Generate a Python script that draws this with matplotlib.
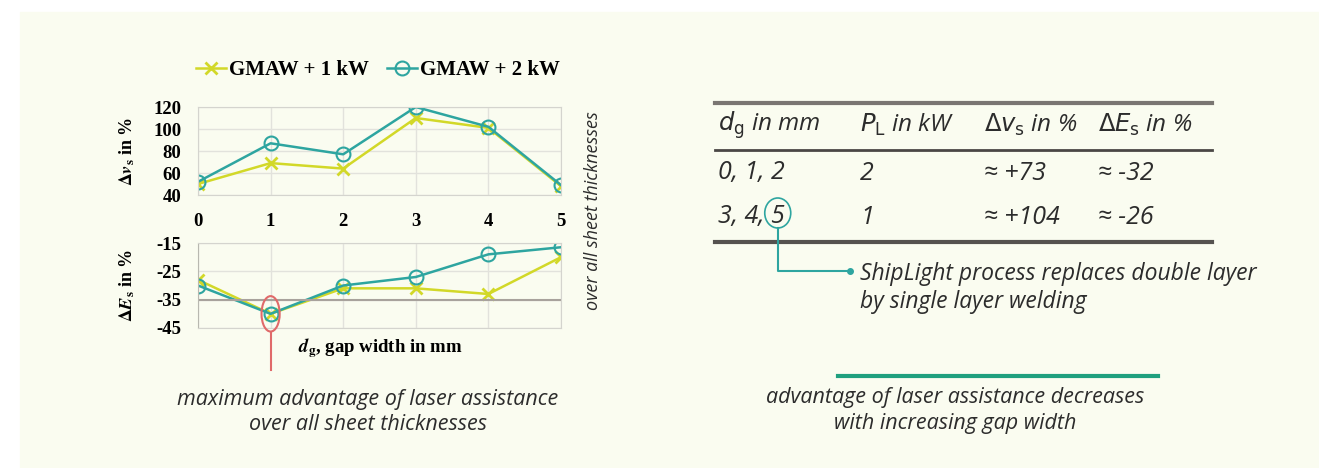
import matplotlib
matplotlib.use("Agg")
import matplotlib.pyplot as plt
from matplotlib.patches import Ellipse, Rectangle
from matplotlib.lines import Line2D

# gap width in mm
gap = [0, 1, 2, 3, 4, 5]
# welding speed increase in %
dv_1kw = [50, 69, 64, 110, 101, 48]
dv_2kw = [52, 87, 77, 120, 102, 49]
# energy change in %
de_1kw = [-28, -40, -31, -31, -33, -20]
de_2kw = [-30, -40, -30, -27, -19, -16.5]

series_labels = ["GMAW + 1 kW", "GMAW + 2 kW"]

table_header = [r"$d_\mathrm{g}$ in mm", r"$P_\mathrm{L}$ in kW",
                r"$\Delta v_\mathrm{s}$ in %", r"$\Delta E_\mathrm{s}$ in %"]
table_rows = [["0, 1, 2", "2", "≈ +73", "≈ -32"],
              ["3, 4, 5", "1", "≈ +104", "≈ -26"]]

W, H = 1319, 468


def fx(px):
    return px / W


def fy(py):
    return 1 - py / H


yellow = '#d2d828'
teal = '#2ea5a0'
serif = 'Liberation Serif'
sans = ['Open Sans', 'DejaVu Sans']
txt = '#2c2c2c'

fig = plt.figure(figsize=(W / 100, H / 100), dpi=100)
fig.patch.set_facecolor('white')
fig.add_artist(Rectangle((fx(20), 0), 1, fy(12), transform=fig.transFigure,
                         color='#fafcf0', zorder=-10))

# left: the two charts
ax1 = fig.add_axes([fx(198), fy(195), fx(561) - fx(198), fy(107) - fy(195)])
ax2 = fig.add_axes([fx(198), fy(328), fx(561) - fx(198), fy(243) - fy(328)])

for ax in (ax1, ax2):
    ax.set_facecolor('none')
    ax.set_xlim(0, 5)
    ax.grid(True, color='#e2e2dc', lw=1)
    for s in ax.spines.values():
        s.set_color('#d4d4ce')
    ax.tick_params(length=0, labelsize=13.5, pad=12)

l1, = ax1.plot(gap, dv_1kw, color=yellow, lw=1.8, marker='x', ms=8, mew=2)
l2, = ax1.plot(gap, dv_2kw, color=teal, lw=1.8, marker='o', ms=10,
               mfc='none', mew=1.5)
ax1.set_ylim(40, 120)
ax1.set_yticks([40, 60, 80, 100, 120])
ax1.set_xticks(gap)
ax1.tick_params(axis='x', pad=13)
ax1.set_xticklabels([str(g) for g in gap], fontfamily=serif, fontweight='bold')
ax1.set_yticklabels(['40', '60', '80', '100', '120'], fontfamily=serif,
                    fontweight='bold')

ax2.plot(gap, de_1kw, color=yellow, lw=1.8, marker='x', ms=8, mew=2)
ax2.plot(gap, de_2kw, color=teal, lw=1.8, marker='o', ms=10, mfc='none', mew=1.5)
ax2.set_ylim(-45, -15)
ax2.set_yticks([-45, -35, -25, -15])
ax2.set_xticks(gap)
ax2.set_xticklabels([])
ax2.set_yticklabels(['-45', '-35', '-25', '-15'], fontfamily=serif,
                    fontweight='bold')
ax2.axhline(-35, color='#a8a29c', lw=1.5)
ax2.spines['left'].set_color('#b8b8b0')

# red mark at the minimum
ax2.add_patch(Ellipse((gap[1], de_2kw[1]), 0.25, 12.5, fill=False,
                      ec='#e06a6a', lw=1.5, clip_on=False, zorder=5))
ax2.plot([gap[1], gap[1]], [de_2kw[1] - 6.25, -59.8], color='#e06a6a', lw=1.5,
         clip_on=False)

fig.legend([l1, l2], series_labels, loc='center', ncol=2, frameon=False,
           bbox_to_anchor=(fx(378), fy(70)), handlelength=1.4,
           handletextpad=0.15, columnspacing=0.9,
           prop={'family': serif, 'weight': 'bold', 'size': 15})

fig.text(fx(127), fy(151), r"$\mathbf{\Delta}\mathbfit{v}_\mathbf{s}$ in %",
         rotation=90, ha='center', va='center', fontsize=13,
         fontfamily=serif, fontweight='bold', math_fontfamily='stix')
fig.text(fx(127), fy(285), r"$\mathbf{\Delta}\mathbfit{E}_\mathbf{s}$ in %",
         rotation=90, ha='center', va='center', fontsize=13,
         fontfamily=serif, fontweight='bold', math_fontfamily='stix')
fig.text(fx(380), fy(348), r"$\mathbfit{d}_\mathbf{g}$, gap width in mm",
         ha='center', va='center', fontsize=13.5, fontfamily=serif,
         fontweight='bold', math_fontfamily='stix')
fig.text(fx(593), fy(211), "over all sheet thicknesses", rotation=90,
         ha='center', va='center', fontsize=13, style='italic',
         family=sans, color=txt)

fig.text(fx(368), fy(400), "maximum advantage of laser assistance",
         ha='center', va='center', fontsize=15.5, style='italic', family=sans,
         color=txt)
fig.text(fx(368), fy(425), "over all sheet thicknesses",
         ha='center', va='center', fontsize=15.5, style='italic', family=sans,
         color=txt)

# right: the table
col_x = [718, 860, 984, 1098]
row_y = [173, 217]
for x, h in zip(col_x, table_header):
    fig.text(fx(x), fy(125), h, ha='left', va='center', fontsize=17.5,
             style='italic', family=sans, color=txt, math_fontfamily='dejavusans')
row_texts = []
for y, row in zip(row_y, table_rows):
    for x, v in zip(col_x, row):
        row_texts.append(fig.text(fx(x), fy(y), v, ha='left', va='center',
                                  fontsize=18, style='italic', family=sans,
                                  color=txt))

for y, lw, c in [(103, 3, '#7a7672'), (150, 2, '#4a4745'), (242, 3, '#55524f')]:
    fig.add_artist(Line2D([fx(715), fx(1212)], [fy(y), fy(y)], lw=lw, color=c))

# circle the last gap width of the second row
fig.canvas.draw()
bb = row_texts[4].get_window_extent()
cx = bb.x1 - 7
fig.add_artist(Ellipse((cx / W, fy(213)), 26 / W, 30 / H, fill=False,
                       ec=teal, lw=1.2, transform=fig.transFigure))
fig.add_artist(Line2D([cx / W, cx / W, fx(850)], [fy(228), fy(271), fy(271)],
                      lw=1.5, color=teal))
fig.add_artist(Line2D([fx(850)], [fy(271)], marker='o', ms=4, color=teal))
fig.text(fx(860), fy(274), "ShipLight process replaces double layer",
         ha='left', va='center', fontsize=16.5, style='italic', family=sans,
         color=txt)
fig.text(fx(860), fy(302), "by single layer welding",
         ha='left', va='center', fontsize=16.5, style='italic', family=sans,
         color=txt)

fig.add_artist(Line2D([fx(838), fx(1158)], [fy(376), fy(376)], lw=3,
                      color='#1fa07e'))
fig.text(fx(955), fy(398), "advantage of laser assistance decreases",
         ha='center', va='center', fontsize=15.5, style='italic', family=sans,
         color=txt)
fig.text(fx(955), fy(424), "with increasing gap width",
         ha='center', va='center', fontsize=15.5, style='italic', family=sans,
         color=txt)

fig.savefig('out.png', dpi=100, facecolor=fig.get_facecolor())
